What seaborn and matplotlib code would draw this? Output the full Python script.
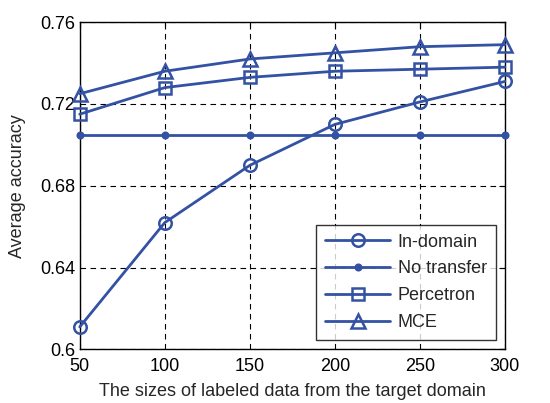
import matplotlib
matplotlib.use('Agg')
import matplotlib.pyplot as plt
import seaborn as sb
import pandas as pd

# Data
sizes = [50, 100, 150, 200, 250, 300]
in_domain = [0.611, 0.662, 0.690, 0.710, 0.721, 0.731]
no_transfer = [0.705, 0.705, 0.705, 0.705, 0.705, 0.705]
percetron = [0.715, 0.728, 0.733, 0.736, 0.737, 0.738]
mce = [0.725, 0.736, 0.742, 0.745, 0.748, 0.749]

series = ['In-domain', 'No transfer', 'Percetron', 'MCE']
markers = {'In-domain': 'o', 'No transfer': '.', 'Percetron': 's', 'MCE': '^'}
msizes = {'In-domain': 9, 'No transfer': 8, 'Percetron': 9, 'MCE': 10}

sb.set_style('white')
plt.rcParams['font.family'] = ['Liberation Sans', 'DejaVu Sans']

df = pd.DataFrame({'Size': sizes * 4,
                   'Accuracy': in_domain + no_transfer + percetron + mce,
                   'Method': sum([[s] * len(sizes) for s in series], [])})

blue = '#3352a3'
fig, ax = plt.subplots(figsize=(5.5, 4.03), dpi=100)
fig.subplots_adjust(left=0.145, right=0.918, top=0.945, bottom=0.133)

for name in series:
    sub = df[df['Method'] == name]
    sb.lineplot(data=sub, x='Size', y='Accuracy', ax=ax, color=blue, lw=2,
                marker=markers[name], markersize=msizes[name],
                markerfacecolor='none' if name != 'No transfer' else blue,
                markeredgecolor=blue, markeredgewidth=1.8, label=name,
                clip_on=False, zorder=5)

ax.set_xlim(50, 300)
ax.set_ylim(0.6, 0.76)
ax.set_xticks(sizes)
ax.set_yticks([0.6, 0.64, 0.68, 0.72, 0.76])
ax.set_yticklabels(['0.6', '0.64', '0.68', '0.72', '0.76'])
ax.grid(True, color='black', linestyle=(0, (5, 4)), linewidth=0.8)
ax.tick_params(direction='in', length=4, labelsize=13, colors='black',
               top=True, right=True)
ax.tick_params(axis='x', pad=6)
for sp in ax.spines.values():
    sp.set_color('black')
    sp.set_linewidth(1)
ax.set_xlabel('The sizes of labeled data from the target domain', fontsize=13,
              labelpad=6)
ax.set_ylabel('Average accuracy', fontsize=13, labelpad=10)

leg = ax.legend(loc='lower right', fontsize=13, frameon=True, fancybox=False,
                edgecolor='black', handlelength=3.6, borderaxespad=0.5,
                labelspacing=0.55, handletextpad=0.4, borderpad=0.5)
leg.get_frame().set_linewidth(1)
leg.set_zorder(10)

fig.savefig('out.png', dpi=100)
